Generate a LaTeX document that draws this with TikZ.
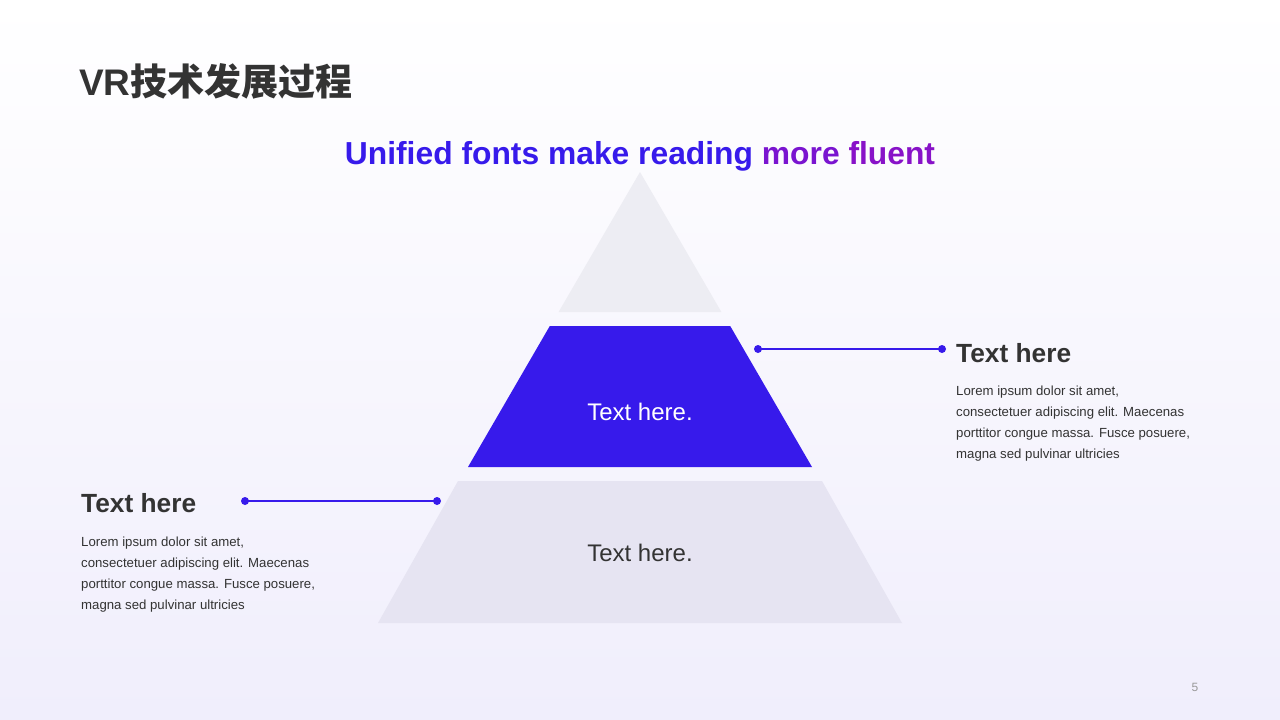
\documentclass[tikz,border=0pt]{standalone}
\usepackage{fontspec}
\setmainfont{Liberation Sans}
\newfontfamily\cjk{Noto Sans CJK SC}
\definecolor{vblue}{RGB}{55,26,235}
\definecolor{vpurple}{RGB}{122,20,208}
\definecolor{vpurple2}{RGB}{136,18,200}
\definecolor{dark}{RGB}{51,51,51}
\definecolor{lgray}{RGB}{237,237,243}
\definecolor{lgray2}{RGB}{230,228,242}
\definecolor{bgbot}{RGB}{240,238,252}
\tikzset{
  body/.style={anchor=north west, inner sep=0pt, align=left, text=dark, font=\fontsize{13.2}{21}\selectfont},
  head/.style={anchor=base west, inner sep=0pt, text=dark, font=\fontsize{26.3}{30}\selectfont\bfseries},
  lvl/.style={inner sep=0pt, font=\fontsize{24}{26}\selectfont},
  conn/.style={draw=vblue, line width=2pt},
  dot/.style={fill=vblue}
}
\begin{document}
\begin{tikzpicture}[x=1pt,y=-1pt]
\useasboundingbox (0,0) rectangle (1280,720);
\shade[top color=white, bottom color=bgbot] (0,0) rectangle (1280,720);
% title
\node[anchor=base west, inner sep=0pt, text=dark, font=\fontsize{37}{40}\selectfont\bfseries] (title) at (79,95) {VR{\cjk\bfseries 技术发展过程}};
\node[anchor=base, inner sep=0pt, font=\fontsize{31.8}{34}\selectfont\bfseries] (sub) at (640,164) {\textcolor{vblue}{Unified fonts make reading} \textcolor{vpurple}{more} \textcolor{vpurple2}{fluent}};
% pyramid
\fill[lgray] (640,172) -- (721.4,312) -- (558.6,312) -- cycle;
\fill[vblue] (549.8,326) -- (730.2,326) -- (812,467) -- (468,467) -- cycle;
\fill[lgray2] (458,481) -- (822,481) -- (902,623) -- (378,623) -- cycle;
\node[lvl, text=white] (mid) at (640,412) {Text here.};
\node[lvl, text=dark] (low) at (640,553) {Text here.};
% connectors
\coordinate (r1) at (758,349);
\coordinate (r2) at (942,349);
\coordinate (l1) at (245,501);
\coordinate (l2) at (437,501);
\draw[conn] (r1) -- (r2);
\draw[conn] (l1) -- (l2);
\fill[dot] (r1) circle (4);
\fill[dot] (r2) circle (4);
\fill[dot] (l1) circle (4);
\fill[dot] (l2) circle (4);
% right text
\node[head] (rh) at (956,362) {Text here};
\node[body] (rb) at (956,386) {Lorem ipsum dolor sit amet,\\consectetuer adipiscing elit. Maecenas\\porttitor congue massa. Fusce posuere,\\magna sed pulvinar ultricies};
% left text
\node[head] (lh) at (81,512) {Text here};
\node[body] (lb) at (81,537) {Lorem ipsum dolor sit amet,\\consectetuer adipiscing elit. Maecenas\\porttitor congue massa. Fusce posuere,\\magna sed pulvinar ultricies};
% page number
\node[inner sep=0pt, text=gray!80, font=\fontsize{12}{14}\selectfont] (pg) at (1195,687) {5};
\end{tikzpicture}
\end{document}
